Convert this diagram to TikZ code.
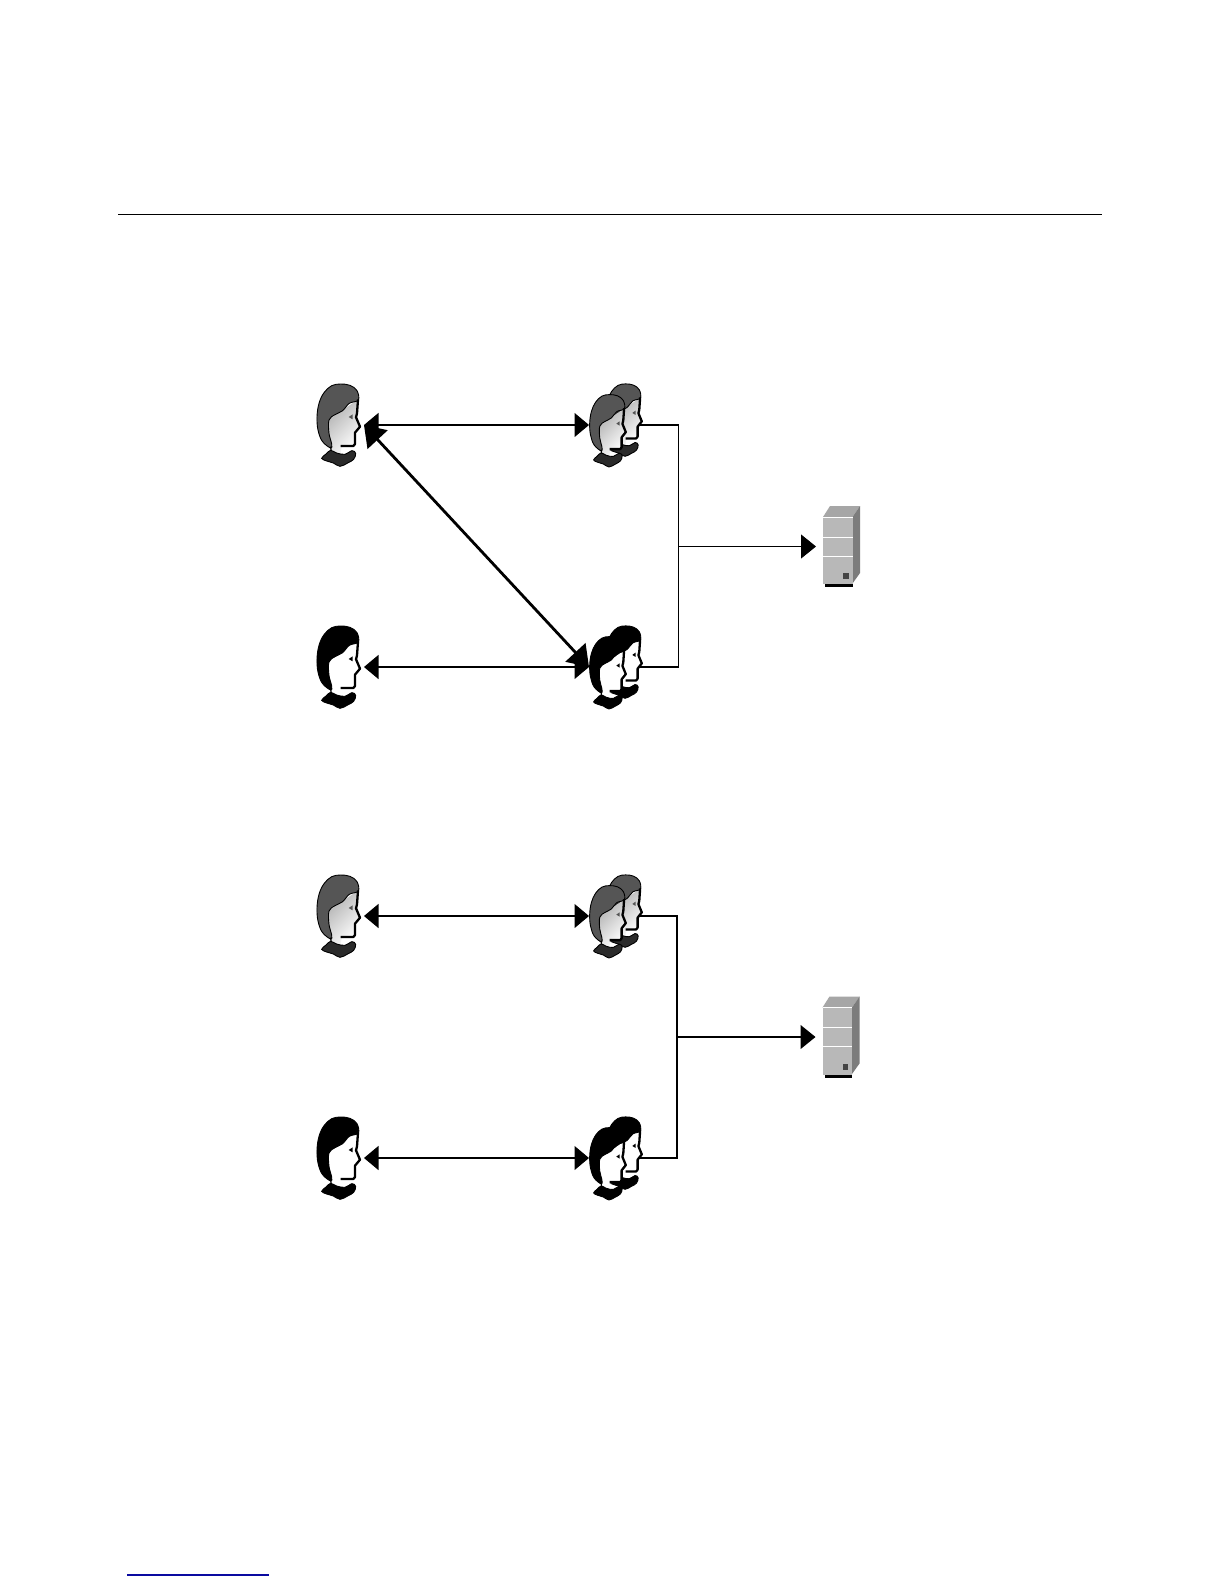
\documentclass[tikz,border=0pt]{standalone}
\usetikzlibrary{arrows.meta}
\definecolor{hairgray}{HTML}{555555}
\definecolor{srvfront}{HTML}{B8B8B8}
\definecolor{srvtop}{HTML}{A6A6A6}
\definecolor{srvside}{HTML}{7C7C7C}
\definecolor{srvmark}{HTML}{444444}
\definecolor{footnavy}{HTML}{0A0AA0}
\tikzset{
  anchorbox/.style={inner sep=0pt,outer sep=0pt,minimum height=60pt},
  singlebox/.style={anchorbox,minimum width=48pt},
  groupbox/.style={anchorbox,minimum width=50pt},
  serverbox/.style={inner sep=0pt,outer sep=0pt,minimum width=50pt,minimum height=80pt},
  link/.style={line width=1.15pt,{Triangle[length=14.5pt,width=24pt]}-{Triangle[length=14.5pt,width=24pt]}},
  thicklink/.style={line width=2.8pt,{Triangle[length=20pt,width=27pt]}-{Triangle[length=20pt,width=27pt]}},
  feed/.style={line width=1.05pt},
  feedarrow/.style={feed,-{Triangle[length=15pt,width=24pt]}},
  faceshade/.style={shading=axis,left color=gray!60,middle color=white!92!gray,right color=white,shading angle=45},
  faceplain/.style={fill=white},
  pics/person/.style n args={3}{code={
    \path[#2] (85,150) -- (172,90) -- (172,130) -- (168,142) -- (181,170) -- (165,188) -- (165,225) -- (125,232) -- (122,250) -- (95,250) -- (85,225) -- cycle;
    \draw[line width=.9pt,fill=#1] plot[smooth cycle,tension=.6] coordinates {(175,90)(171,62)(150,46)(122,42)(95,47)(72,68)(57,100)(51,140)(54,180)(67,214)(92,234)(95,222)(87,190)(87,150)(105,134)(128,122)(148,100)};
    \draw[line width=2.3pt,line join=round] (174,88) -- (171,130) -- (168,142) -- (180,170) -- (165,188) -- (165,222) -- (160,228) -- (122,228);
    \draw[line width=1.2pt] (92,230) -- (94,246);
    \fill[#3] (146,141) -- (158,133) -- (158,148) -- cycle;
    \draw[line width=.9pt,fill=#1!50!black] plot[smooth cycle,tension=.6] coordinates {(65,265)(78,252)(92,241)(110,249)(135,253)(156,242)(167,250)(161,268)(143,279)(120,289)(100,279)(80,273)};
  }},
  pics/tower/.style={code={
    \fill[black] (-16,30) rectangle (11.5,40.5);
    \fill[srvtop] (-18,-29.5) -- (-11,-40.5) -- (19,-40.5) -- (11.5,-29.5) -- cycle;
    \fill[srvside] (11.5,-29.5) -- (19,-40.5) -- (19,26.5) -- (11.5,37) -- cycle;
    \fill[srvfront] (-18,-29.5) rectangle (11.5,37.5);
    \draw[white,line width=1pt] (-18,-29.5) -- (11.5,-29.5);
    \draw[white,line width=1pt] (-18,-9.5) -- (11.5,-9.5);
    \draw[white,line width=1pt] (-18,9.5) -- (11.5,9.5);
    \fill[srvmark] (2,26.5) rectangle (7.5,32.5);
  }}
}
\newcommand{\singlefig}[4]{\pic[scale=1/3] at ([shift={(-40,-55)}]#1.center) {person={#2}{#3}{#4}};}
\newcommand{\groupfig}[4]{%
  \pic[xscale=.28,yscale=.293] at ([shift={(-22.6,-53.4)}]#1.center) {person={#2}{#3}{#4}};
  \pic[xscale=.28,yscale=.293] at ([shift={(-38.6,-42.7)}]#1.center) {person={#2}{#3}{#4}};}
\begin{document}
\begin{tikzpicture}[x=1pt,y=-1pt]
\useasboundingbox (0,0) rectangle (1224,1584);
\fill[white] (0,0) rectangle (1224,1584);
\coordinate (ruleL) at (118,214.5);
\coordinate (ruleR) at (1102,214.5);
\coordinate (footL) at (127,1575);
\coordinate (footR) at (269,1575);
\draw[line width=1pt] (ruleL) -- (ruleR);
\draw[line width=1.2pt,footnavy] (footL) -- (footR);
% upper diagram
\node[singlebox] (a1) at (340,425) {};
\node[singlebox] (c1) at (340,667) {};
\node[groupbox] (b1) at (614,425) {};
\node[groupbox] (d1) at (614,667) {};
\node[serverbox] (s1) at (841,546.5) {};
\coordinate (bus1) at (678.5,546.5);
\draw[link] (a1.east) -- (b1.west);
\draw[link] (c1.east) -- (d1.west);
\draw[thicklink] (a1.east) -- (d1.west);
\draw[feed] (b1.east) -| (bus1) |- (d1.east);
\draw[feedarrow] (bus1) -- (s1.west);
% lower diagram
\node[singlebox] (a2) at (340,916) {};
\node[singlebox] (c2) at (340,1158) {};
\node[groupbox] (b2) at (614,916) {};
\node[groupbox] (d2) at (614,1158) {};
\node[serverbox] (s2) at (840.5,1037) {};
\coordinate (bus2) at (677,1037);
\draw[link] (a2.east) -- (b2.west);
\draw[link] (c2.east) -- (d2.west);
\draw[feed] (b2.east) -| (bus2) |- (d2.east);
\draw[feedarrow] (bus2) -- (s2.west);
% figures
\singlefig{a1}{hairgray}{faceshade}{hairgray}
\singlefig{a2}{hairgray}{faceshade}{hairgray}
\singlefig{c1}{black}{faceplain}{black}
\singlefig{c2}{black}{faceplain}{black}
\groupfig{b1}{hairgray}{faceshade}{hairgray}
\groupfig{b2}{hairgray}{faceshade}{hairgray}
\groupfig{d1}{black}{faceplain}{black}
\groupfig{d2}{black}{faceplain}{black}
\pic at (s1.center) {tower};
\pic at (s2.center) {tower};
\end{tikzpicture}
\end{document}
